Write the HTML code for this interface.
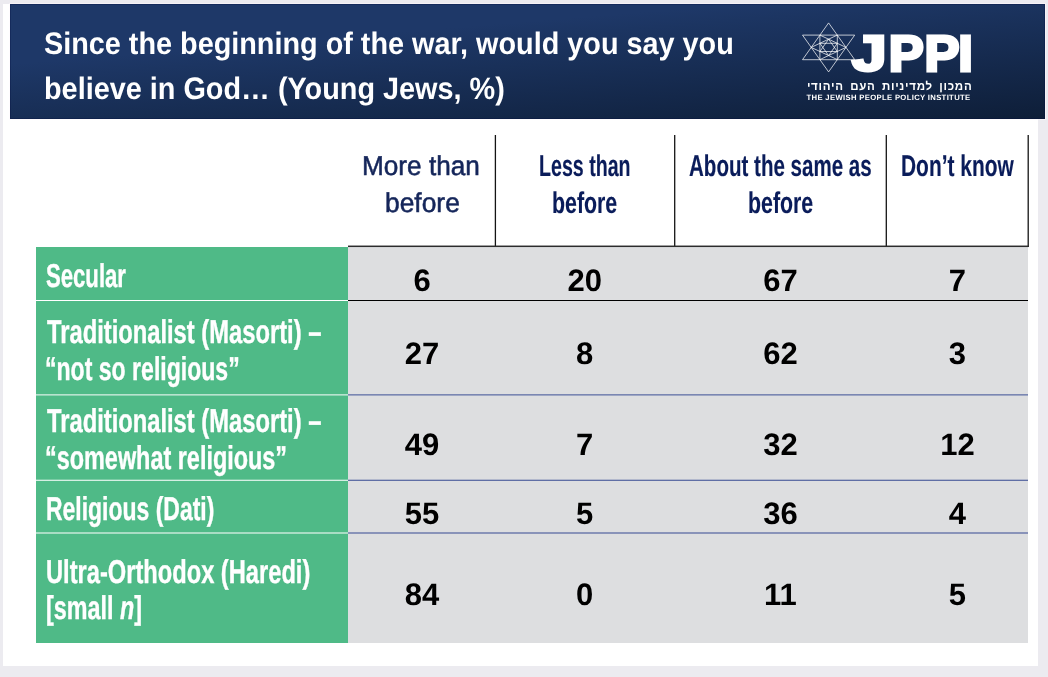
<!DOCTYPE html>
<html lang="en">
<head>
<meta charset="utf-8">
<title>Since the beginning of the war, would you say you believe in God… (Young Jews, %)</title>
<style>
  html, body { margin: 0; padding: 0; }
  body {
    width: 1048px; height: 677px; overflow: hidden; position: relative;
    background: #ecebf0;
    font-family: "Liberation Sans", "DejaVu Sans", sans-serif;
  }
  .abs { position: absolute; }
  .panel { left: 3px; top: 4px; width: 1035px; height: 662px; background: #fff; }
  .hdr { left: 10px; top: 4px; width: 1035px; height: 115px;
         box-shadow: 0 0 0 1px rgba(255,250,253,0.5), inset 0 0 0 1px rgba(0,12,60,0.28);
         background: linear-gradient(175.3deg, #1e3868 0%, #1e3868 30%, #1c3562 38%, #0e1e38 100%); }
  .t { position: absolute; white-space: nowrap; transform-origin: 0 0; line-height: 1; text-rendering: geometricPrecision; }
  .title { color: #fff; font-weight: bold; font-size: 31px; left: 45px; }
  .ch { color: #0a1c5a; font-weight: bold; font-size: 30px; -webkit-text-stroke: 0.15px #0a1c5a; }
  .ch0 { color: #15265a; font-weight: normal; font-size: 27.3px; -webkit-text-stroke: 0.55px #15265a; }
  .rl { color: #fff; font-weight: bold; font-size: 33px; left: 47px; -webkit-text-stroke: 0.4px #fff; }
  .num { color: #000; font-weight: bold; font-size: 31px; width: 100px; text-align: center; transform-origin: 50% 0; transform: scaleX(1.0); }
  .heb { color:#fff; font-weight:bold; font-size:11.5px; word-spacing:2.4px; letter-spacing:0.75px; }
  .eng { color:#fff; font-weight:bold; font-size:7.7px; letter-spacing:0.33px; }
  .green { left: 36px; width: 312px; background: #4fba87; }
  .gray { left: 348px; width: 680px; background: #dddee0; }
</style>
</head>
<body>
<div class="abs panel"></div>
<div class="abs hdr"></div>

<!-- title -->
<div class="t title" id="t1" style="left:44.2px; top:28px; transform:scaleX(0.9292);">Since the beginning of the war, would you say you</div>
<div class="t title" id="t2" style="left:43.7px; top:73px; transform:scaleX(0.9300);">believe in God… (Young Jews, %)</div>

<!-- logo -->
<svg class="abs" style="left:0; top:0;" width="1048" height="120" viewBox="0 0 1048 120">
  <g fill="none" stroke="#fff" stroke-width="0.9" stroke-opacity="0.8" stroke-linejoin="miter">
    <path d="M828.6 22.9 L802.5 59.7 L854.7 59.7Z M802.5 35.1 L828.6 71.9 L854.7 35.1Z"/>
    <path d="M819.9 35.1 L819.9 59.6 L846.0 47.4Z M811.2 47.4 L837.3 59.6 L837.3 35.1Z"/>
    <path d="M819.9 43.3 L828.6 55.6 L837.3 43.3Z M819.9 51.5 L837.3 51.5 L828.6 39.2Z"/>
  </g>
  <text id="jppi" transform="scale(1.05 1)" y="70.7" font-family="Liberation Sans, DejaVu Sans, sans-serif" font-weight="bold" font-size="50" fill="#fff" stroke="#fff" stroke-width="3" stroke-linejoin="miter"><tspan x="811.5" textLength="33" lengthAdjust="spacingAndGlyphs">J</tspan><tspan x="846.5 880.4 912.6">PPI</tspan></text>
</svg>
<div class="t heb" id="heb" dir="rtl" lang="he" style="left:806.9px; top:82px;">המכון למדיניות העם היהודי</div>
<div class="t eng" id="eng" style="left:806.5px; top:94px;">THE JEWISH PEOPLE POLICY INSTITUTE</div>

<!-- table blocks -->
<div class="abs green" style="top:247px; height:396px;"></div>
<div class="abs gray" style="top:247px; height:396px;"></div>

<!-- grid lines -->
<svg class="abs" style="left:0; top:120px;" width="1048" height="557" viewBox="0 120 1048 557">
  <g fill="#141414">
    <rect x="494.75" y="135" width="1.3" height="112"/>
    <rect x="674.05" y="135" width="1.3" height="112"/>
    <rect x="885.65" y="135" width="1.3" height="112"/>
    <rect x="1027.55" y="135" width="1.3" height="112"/>
  </g>
  <rect x="348" y="245.55" width="680.85" height="1.5" fill="#2c2c2c"/>
  <rect x="36" y="300" width="312" height="1" fill="#fff"/>
  <rect x="348" y="300" width="680" height="1" fill="#000"/>
  <g fill="#fff" fill-opacity="0.85">
    <rect x="36" y="394.3" width="312" height="1.15"/>
    <rect x="36" y="479.7" width="312" height="1.2"/>
    <rect x="36" y="532.4" width="312" height="1.2"/>
  </g>
  <g fill="#51629f">
    <rect x="348" y="394.3" width="680" height="1.15"/>
    <rect x="348" y="479.7" width="680" height="1.2"/>
    <rect x="348" y="532.4" width="680" height="1.2"/>
  </g>
</svg>

<!-- column headers -->
<div class="t ch0" id="c0a" style="left:362.2px; top:152px; transform:scaleX(0.9590);">More than</div>
<div class="t ch0" id="c0b" style="left:385.0px; top:189px; transform:scaleX(0.9666);">before</div>
<div class="t ch" id="c1a" style="left:539.0px; top:152px; transform:scaleX(0.6538);">Less than</div>
<div class="t ch" id="c1b" style="left:552.4px; top:189px; transform:scaleX(0.7112);">before</div>
<div class="t ch" id="c2a" style="left:689.4px; top:152px; transform:scaleX(0.6850);">About the same as</div>
<div class="t ch" id="c2b" style="left:747.8px; top:189px; transform:scaleX(0.7112);">before</div>
<div class="t ch" id="c3a" style="left:901.0px; top:152px; transform:scaleX(0.6976);">Don’t know</div>

<!-- row labels -->
<div class="t rl" id="r1" style="left:46.4px; top:259px; transform:scaleX(0.6705);">Secular</div>
<div class="t rl" id="r2a" style="left:46.6px; top:315px; transform:scaleX(0.7193);">Traditionalist (Masorti) –</div>
<div class="t rl" id="r2b" style="left:45.1px; top:352px; transform:scaleX(0.6986);">“not so religious”</div>
<div class="t rl" id="r3a" style="left:46.6px; top:404px; transform:scaleX(0.7193);">Traditionalist (Masorti) –</div>
<div class="t rl" id="r3b" style="left:45.2px; top:441px; transform:scaleX(0.7097);">“somewhat religious”</div>
<div class="t rl" id="r4" style="left:46.4px; top:492px; transform:scaleX(0.6955);">Religious (Dati)</div>
<div class="t rl" id="r5a" style="left:46.0px; top:555px; transform:scaleX(0.7172);">Ultra-Orthodox (Haredi)</div>
<div class="t rl" id="r5b" style="left:46.4px; top:591px; transform:scaleX(0.7072);">[small <i>n</i>]</div>

<!-- numbers -->
<div class="t num" style="left:372.0px; top:265px;">6</div>
<div class="t num" style="left:534.7px; top:265px;">20</div>
<div class="t num" style="left:730.4px; top:265px;">67</div>
<div class="t num" style="left:907.4px; top:265px;">7</div>

<div class="t num" style="left:372.0px; top:338px;">27</div>
<div class="t num" style="left:534.7px; top:338px;">8</div>
<div class="t num" style="left:730.4px; top:338px;">62</div>
<div class="t num" style="left:907.4px; top:338px;">3</div>

<div class="t num" style="left:372.0px; top:429px;">49</div>
<div class="t num" style="left:534.7px; top:429px;">7</div>
<div class="t num" style="left:730.4px; top:429px;">32</div>
<div class="t num" style="left:907.4px; top:429px;">12</div>

<div class="t num" style="left:372.0px; top:498px;">55</div>
<div class="t num" style="left:534.7px; top:498px;">5</div>
<div class="t num" style="left:730.4px; top:498px;">36</div>
<div class="t num" style="left:907.4px; top:498px;">4</div>

<div class="t num" style="left:372.0px; top:579px;">84</div>
<div class="t num" style="left:534.7px; top:579px;">0</div>
<div class="t num" style="left:730.4px; top:579px;">11</div>
<div class="t num" style="left:907.4px; top:579px;">5</div>

</body>
</html>
